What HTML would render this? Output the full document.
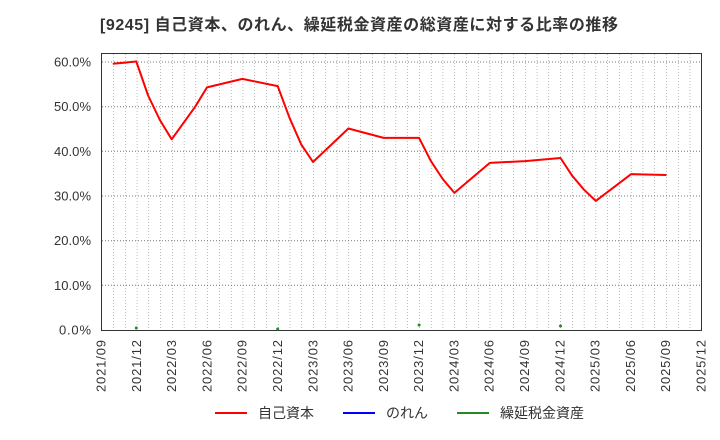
<!DOCTYPE html>
<html><head><meta charset="utf-8"><style>body{margin:0;background:#fff}svg{display:block;font-family:"Liberation Sans","Noto Sans CJK JP",sans-serif}</style></head><body>
<svg width="720" height="440" xmlns="http://www.w3.org/2000/svg">
<defs>
<pattern id="vg" patternUnits="userSpaceOnUse" x="101.5" y="0" width="11.7647" height="3"><rect x="-0.5" y="0" width="1" height="1" fill="#777"/></pattern>
</defs>
<text x="100" y="30" font-size="16" font-weight="bold" fill="#333" textLength="518" lengthAdjust="spacing">[9245]  自己資本、のれん、繰延税金資産の総資産に対する比率の推移</text>
<rect x="106" y="54" width="595" height="276" fill="url(#vg)"/>
<g stroke="#777" stroke-dasharray="1,2" stroke-width="1">
<line x1="102" x2="701" y1="285.3" y2="285.3"/><line x1="102" x2="701" y1="240.7" y2="240.7"/><line x1="102" x2="701" y1="196" y2="196"/><line x1="102" x2="701" y1="151.3" y2="151.3"/><line x1="102" x2="701" y1="106.7" y2="106.7"/><line x1="102" x2="701" y1="62" y2="62"/>
</g>
<g font-size="13" fill="#333" text-anchor="end">
<text x="91" y="334.5" textLength="32">0.0%</text><text x="91" y="290" textLength="37">10.0%</text><text x="91" y="245" textLength="37">20.0%</text><text x="91" y="200.5" textLength="37">30.0%</text><text x="91" y="156" textLength="37">40.0%</text><text x="91" y="111" textLength="37">50.0%</text><text x="91" y="66.5" textLength="37">60.0%</text>
</g>
<g font-size="13" fill="#333" text-anchor="end">
<text transform="translate(105.5,340) rotate(-90)" textLength="52">2021/09</text>
<text transform="translate(140.8,340) rotate(-90)" textLength="52">2021/12</text>
<text transform="translate(176.1,340) rotate(-90)" textLength="52">2022/03</text>
<text transform="translate(211.4,340) rotate(-90)" textLength="52">2022/06</text>
<text transform="translate(246.7,340) rotate(-90)" textLength="52">2022/09</text>
<text transform="translate(282,340) rotate(-90)" textLength="52">2022/12</text>
<text transform="translate(317.3,340) rotate(-90)" textLength="52">2023/03</text>
<text transform="translate(352.6,340) rotate(-90)" textLength="52">2023/06</text>
<text transform="translate(387.9,340) rotate(-90)" textLength="52">2023/09</text>
<text transform="translate(423.2,340) rotate(-90)" textLength="52">2023/12</text>
<text transform="translate(458.4,340) rotate(-90)" textLength="52">2024/03</text>
<text transform="translate(493.7,340) rotate(-90)" textLength="52">2024/06</text>
<text transform="translate(529,340) rotate(-90)" textLength="52">2024/09</text>
<text transform="translate(564.3,340) rotate(-90)" textLength="52">2024/12</text>
<text transform="translate(599.6,340) rotate(-90)" textLength="52">2025/03</text>
<text transform="translate(634.9,340) rotate(-90)" textLength="52">2025/06</text>
<text transform="translate(670.2,340) rotate(-90)" textLength="52">2025/09</text>
<text transform="translate(705.5,340) rotate(-90)" textLength="52">2025/12</text>
</g>
<rect x="101.5" y="53.5" width="600" height="277" fill="none" stroke="#333" stroke-width="1"/>
<polyline fill="none" stroke="#f00" stroke-width="2" stroke-linejoin="round" points="112.8,63.8 136.3,61.5 148.1,95.5 159.9,120 171.7,139.3 195.2,106.7 207,87.4 242.4,78.9 277.7,86.1 289.5,117.8 301.3,144.6 313,162 348.4,128.5 383.7,137.9 419.1,137.9 430.9,161.1 442.7,179 454.4,192.9 489.8,162.9 525.1,161.1 560.5,158 572.3,175.9 584,189.7 595.8,200.9 631.2,174.1 666.5,175"/>
<g fill="#228b22"><circle cx="136.3" cy="328" r="1.5"/><circle cx="277.7" cy="329" r="1.5"/><circle cx="419.1" cy="325" r="1.5"/><circle cx="560.5" cy="326" r="1.5"/></g>
<g font-size="14" fill="#333">
<line x1="215" y1="413" x2="247" y2="413" stroke="#f00" stroke-width="2"/><text x="258" y="418">自己資本</text>
<line x1="343" y1="413" x2="375" y2="413" stroke="#00f" stroke-width="2"/><text x="386" y="418">のれん</text>
<line x1="457" y1="413" x2="489" y2="413" stroke="#228b22" stroke-width="2"/><text x="500" y="418">繰延税金資産</text>
</g>
</svg>
</body></html>
